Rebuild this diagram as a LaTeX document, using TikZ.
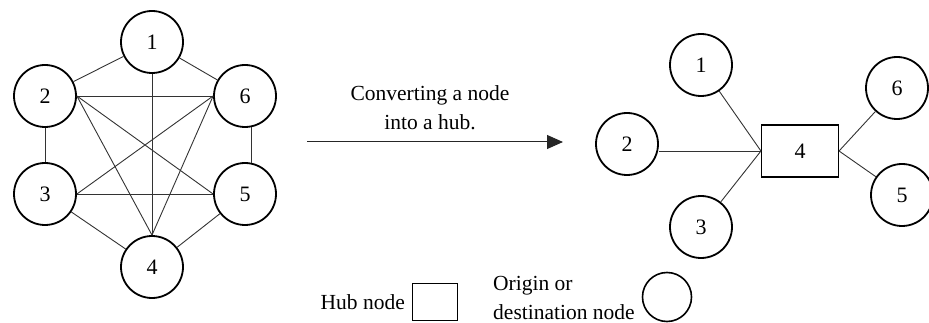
\documentclass[tikz,border=0pt]{standalone}
\usepackage{fontspec}
\setmainfont{Liberation Serif}
\usetikzlibrary{arrows.meta}
\begin{document}
\begin{tikzpicture}[x=1pt,y=-1pt,
  vert/.style={circle,draw=black,line width=1.8pt,minimum size=62pt,inner sep=0pt,font=\fontsize{22}{26}\selectfont},
  hubbox/.style={rectangle,draw=black,line width=1.1pt,minimum width=77pt,minimum height=52pt,inner sep=0pt,font=\fontsize{22}{26}\selectfont},
  edge/.style={draw=black!80,line width=0.9pt},
  lbl/.style={font=\fontsize{21.5}{29}\selectfont,inner sep=0pt}]
\useasboundingbox (0,0) rectangle (929,323);
% left graph
\node[vert] (l1) at (152,42) {1};
\node[vert] (l2) at (45,96) {2};
\node[vert] (l6) at (245,96) {6};
\node[vert] (l3) at (45,194) {3};
\node[vert] (l5) at (245,194) {5};
\node[vert] (l4) at (152,267) {4};
\draw[edge] (l1) -- (l2);
\draw[edge] (l1) -- (l6);
\draw[edge] (l1.south) -- (l4.north);
\draw[edge] (l2.south) -- (l3.north);
\draw[edge] (l6.-78) -- (l5.78);
\draw[edge] (l2.east) -- (l6.west);
\draw[edge] (l2.east) -- (l5.west);
\draw[edge] (l2.east) -- (l4.north);
\draw[edge] (l6.west) -- (l3.east);
\draw[edge] (l6.west) -- (l4.north);
\draw[edge] (l3.east) -- (l5.west);
\draw[edge] (l3) -- (l4);
\draw[edge] (l5) -- (l4);
% arrow
\coordinate (a0) at (307,142);
\coordinate (a1) at (563,142);
\draw[black!85,line width=1pt,-{Triangle[length=16pt,width=14pt]}] (a0) -- (a1);
\node[lbl,align=center] (cap) at (430,108) {Converting a node\\into a hub.};
% right graph
\node[hubbox] (r4) at (800,151) {4};
\node[vert] (r1) at (701,65) {1};
\node[vert] (r2) at (627,144) {2};
\node[vert] (r3) at (701,227) {3};
\node[vert] (r6) at (897,88) {6};
\node[vert] (r5) at (902,195) {5};
\draw[edge] (r1) -- (r4.west);
\draw[edge] (r2.east |- r4.west) -- (r4.west);
\draw[edge] (r3) -- (r4.west);
\draw[edge] (r4.east) -- (r6);
\draw[edge] (r4.east) -- (r5);
% legend
\node[lbl,anchor=east] (hubtxt) at (405,302) {Hub node};
\node[rectangle,draw=black,line width=1.4pt,minimum width=45pt,minimum height=37pt,inner sep=0pt] (hubkey) at (435,302) {};
\node[lbl,align=left,anchor=west] (odtxt) at (493,298) {Origin or\\destination node};
\node[circle,draw=black,line width=1.6pt,minimum size=49pt,inner sep=0pt] (odkey) at (667,297) {};
\end{tikzpicture}
\end{document}
